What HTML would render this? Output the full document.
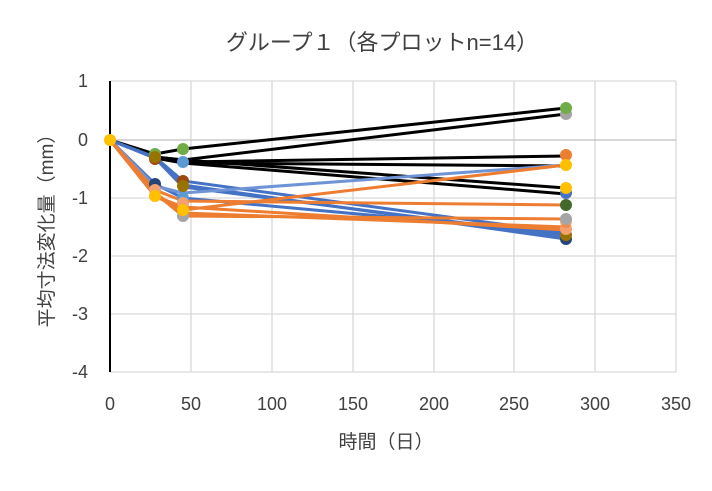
<!DOCTYPE html>
<html><head><meta charset="utf-8"><style>body{margin:0;background:#fff}svg{display:block}text{font-family:"Liberation Sans","Noto Sans CJK JP",sans-serif;fill:#404040}</style></head><body>
<svg width="712" height="491" viewBox="0 0 712 491">
<g stroke="#d9d9d9" stroke-width="1.3">
<line x1="110" y1="81" x2="676" y2="81"/><line x1="110" y1="198" x2="676" y2="198"/><line x1="110" y1="256" x2="676" y2="256"/><line x1="110" y1="314" x2="676" y2="314"/><line x1="110" y1="372" x2="676" y2="372"/>
<line x1="191" y1="81" x2="191" y2="372"/><line x1="272" y1="81" x2="272" y2="372"/><line x1="353" y1="81" x2="353" y2="372"/><line x1="434" y1="81" x2="434" y2="372"/><line x1="514" y1="81" x2="514" y2="372"/><line x1="595" y1="81" x2="595" y2="372"/><line x1="676" y1="81" x2="676" y2="372"/>
</g>
<line x1="110" y1="140" x2="676" y2="140" stroke="#bfbfbf" stroke-width="1.3"/>
<line x1="110" y1="81" x2="110" y2="372" stroke="#000" stroke-width="2"/>
<g fill="none" stroke-width="3">
<g stroke="#000">
<polyline points="110,140 155,154 183,149 566,108"/>
<polyline points="110,140 155,157 183,160 566,114"/>
<polyline points="110,140 155,157 183,162 566,156"/>
<polyline points="110,140 155,157 183,160 566,188"/>
<polyline points="110,140 155,157 183,163 566,194"/>
<polyline points="110,140 155,158 183,163 566,166"/>
</g>
<g stroke="#4472c4">
<polyline points="110,140 155,184 183,198 566,233"/>
<polyline points="110,140 155,157 183,181 566,233"/>
<polyline points="110,140 155,158 183,185 566,239"/>
<polyline points="110,140 155,158 183,187 566,236"/>
</g>
<polyline stroke="#6f94d6" points="110,140 155,186 183,193 566,165"/>
<g stroke="#ed7d31">
<polyline points="110,140 155,190 183,201 566,205"/>
<polyline points="110,140 155,196 183,210 566,165"/>
<polyline points="110,140 155,193 183,216 566,219"/>
<polyline points="110,140 155,193 183,213 566,227"/>
<polyline points="110,140 155,196 183,207 566,230"/>
</g>
</g>
<g>
<circle cx="110" cy="140" r="6" fill="#ffc000"/>
<circle cx="155" cy="154" r="6" fill="#70ad47"/><circle cx="155" cy="157" r="6" fill="#a5a5a5"/><circle cx="155" cy="159" r="6" fill="#9e480e"/><circle cx="155" cy="157" r="6" fill="#997300"/>
<circle cx="155" cy="184" r="6" fill="#264478"/><circle cx="155" cy="190" r="6" fill="#f4a070"/><circle cx="155" cy="196" r="6" fill="#ffc000"/>
<circle cx="183" cy="149" r="6" fill="#70ad47"/><circle cx="183" cy="162" r="6" fill="#5b9bd5"/>
<circle cx="183" cy="181" r="6" fill="#9e480e"/><circle cx="183" cy="186" r="6" fill="#997300"/>
<circle cx="183" cy="198" r="6" fill="#5b9bd5"/><circle cx="183" cy="203" r="6" fill="#f4a070"/><circle cx="183" cy="216" r="6" fill="#a5a5a5"/><circle cx="183" cy="210" r="6" fill="#ffc000"/>
<circle cx="566" cy="114" r="6" fill="#a5a5a5"/><circle cx="566" cy="108" r="6" fill="#70ad47"/>
<circle cx="566" cy="155" r="6" fill="#ed7d31"/><circle cx="566" cy="165" r="6" fill="#ffc000"/>
<circle cx="566" cy="193" r="6" fill="#4472c4"/><circle cx="566" cy="188" r="6" fill="#ffc000"/>
<circle cx="566" cy="205" r="6" fill="#43682b"/>
<circle cx="566" cy="239" r="6" fill="#264478"/><circle cx="566" cy="235" r="6" fill="#997300"/><circle cx="566" cy="229" r="6" fill="#f4a070"/><circle cx="566" cy="222" r="6" fill="#ed7d31" opacity="0.6"/><circle cx="566" cy="219" r="6" fill="#a5a5a5"/>
</g>
<g font-size="18" text-anchor="end">
<text x="88" y="87">1</text><text x="88" y="146">0</text><text x="88" y="204">-1</text><text x="88" y="262">-2</text><text x="88" y="320">-3</text><text x="88" y="378">-4</text>
</g>
<g font-size="18" text-anchor="middle">
<text x="110" y="410">0</text><text x="191" y="410">50</text><text x="272" y="410">100</text><text x="353" y="410">150</text><text x="434" y="410">200</text><text x="514" y="410">250</text><text x="595" y="410">300</text><text x="676" y="410">350</text>
</g>
<text x="386" y="448" font-size="19" text-anchor="middle">時間（日）</text>
<text x="382" y="50" font-size="22" text-anchor="middle">グループ１（各プロットn=14）</text>
<text transform="translate(53,226) rotate(-90)" font-size="19" text-anchor="middle">平均寸法変化量（mm）</text>
</svg>
</body></html>
